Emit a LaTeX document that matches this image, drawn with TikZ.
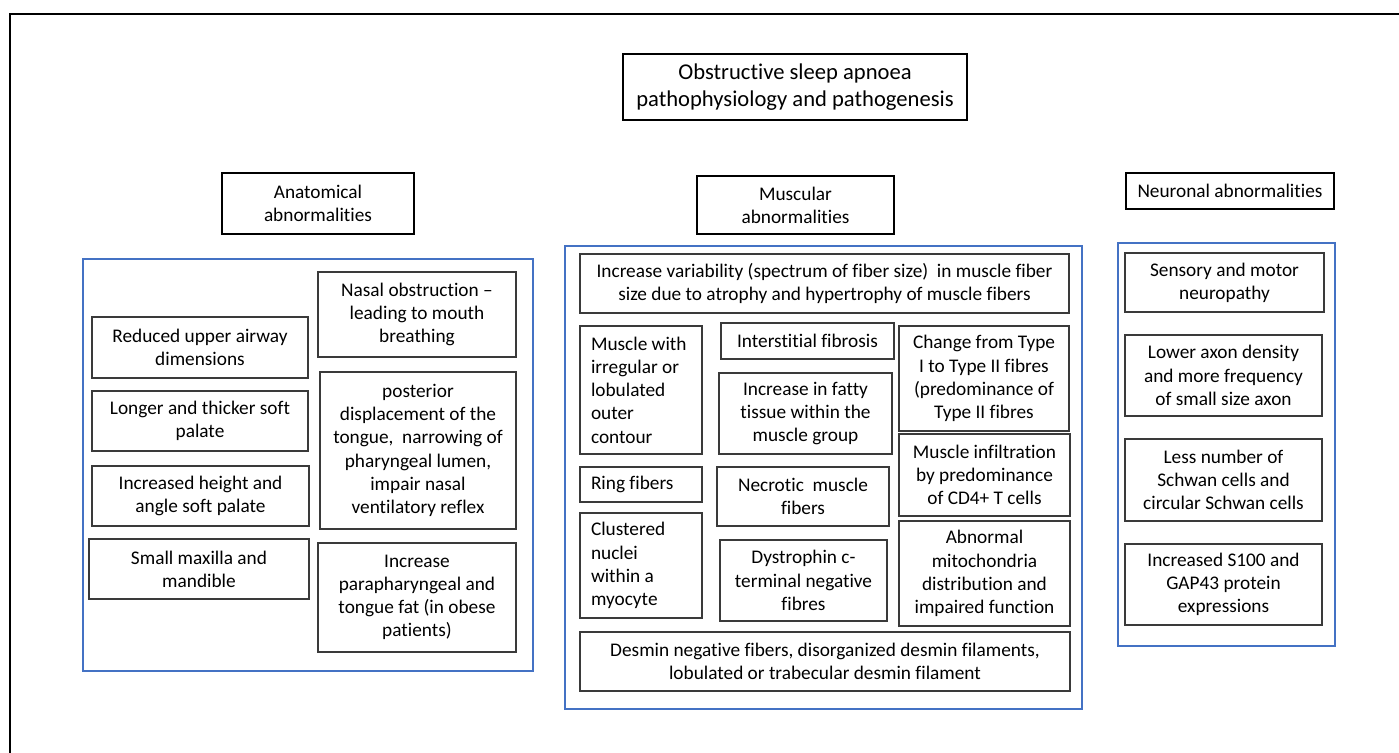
\documentclass[tikz,border=0pt]{standalone}
\usepackage{fontspec}
\setmainfont{Carlito}[Ligatures=NoCommon]
\definecolor{grpblue}{HTML}{4472C4}
\definecolor{boxgray}{HTML}{3A3A3A}
\newcommand\bodyfont{\fontsize{9.65}{11.6}\selectfont}
\newcommand\titlefont{\fontsize{11.3}{13.8}\selectfont}
\tikzset{
  box/.style={draw=boxgray, line width=0.6pt, inner sep=0pt, align=center, font=\bodyfont},
  lbox/.style={box, align=flush left, text width=50pt},
  hdrbox/.style={draw=black, line width=0.6pt, inner sep=0pt, align=center, font=\bodyfont},
  grpbox/.style={draw=grpblue, line width=0.8pt, inner sep=0pt},
  frameline/.style={draw=black, line width=1.1pt}
}
% \mybox[style]{name}{x1}{y1}{x2}{y2}{text}
\newcommand\mybox[7][box]{%
  \node[#1, minimum width={(#5-#3)*0.5pt}, minimum height={(#6-#4)*0.5pt}] (#2) at ({(#3+#5)/2},{(#4+#6)/2}) {#7};}
\begin{document}
\begin{tikzpicture}[x=0.5pt, y=-0.5pt]
\useasboundingbox (0,0) rectangle (1399,753);
\begin{scope}
\clip (0,0) rectangle (1399,753);
\draw[frameline] (10,14) rectangle (1420,780);
\end{scope}
% title and headers
\mybox[hdrbox,font=\titlefont]{title}{623}{54}{967}{120}{Obstructive sleep apnoea\\pathophysiology and pathogenesis}
\mybox[hdrbox]{anat}{222}{173}{414}{234}{Anatomical\\abnormalities}
\mybox[hdrbox]{musc}{697}{176}{894}{234}{Muscular\\abnormalities}
\mybox[hdrbox]{neur}{1126}{173}{1334}{209}{Neuronal abnormalities}
% group boxes
\mybox[grpbox]{ganat}{83}{259}{533}{671}{}
\mybox[grpbox]{gmusc}{565}{246}{1082}{709}{}
\mybox[grpbox]{gneur}{1118}{243}{1335}{646}{}
% anatomical
\mybox{a1}{92}{317}{308}{378}{Reduced upper airway\\dimensions}
\mybox{a2}{92}{391}{308}{451}{Longer and thicker soft\\palate}
\mybox{a3}{92}{466}{309}{526}{Increased height and\\angle soft palate}
\mybox{a4}{89}{539}{309}{599}{Small maxilla and\\mandible}
\mybox{a5}{318}{272}{516}{357}{Nasal obstruction –\\leading to mouth\\breathing}
\mybox{a6}{320}{372}{516}{529}{posterior\\displacement of the\\tongue,~ narrowing of\\pharyngeal lumen,\\impair nasal\\ventilatory reflex}
\mybox{a7}{318}{543}{516}{652}{Increase\\parapharyngeal and\\tongue fat (in obese\\patients)}
% muscular
\mybox{m1}{580}{254}{1069}{313}{Increase variability (spectrum of fiber size)~ in muscle fiber\\size due to atrophy and hypertrophy of muscle fibers}
\mybox[lbox]{m2}{580}{326}{702}{454}{Muscle with\\irregular or\\lobulated\\outer\\contour}
\mybox{m3}{721}{323}{894}{359}{Interstitial fibrosis}
\mybox{m4}{719}{373}{892}{454}{Increase in fatty\\tissue within the\\muscle group}
\mybox{m5}{899}{326}{1069}{431}{Change from Type\\I to Type II fibres\\(predominance of\\Type II fibres}
\mybox[lbox]{m6}{580}{467}{702}{502}{Ring fibers}
\mybox[lbox]{m7}{580}{513}{702}{618}{Clustered\\nuclei\\within a\\myocyte}
\mybox{m8}{717}{467}{889}{526}{Necrotic~ muscle\\fibers}
\mybox{m9}{720}{540}{887}{621}{Dystrophin c-\\terminal negative\\fibres}
\mybox{m10}{899}{434}{1070}{516}{Muscle infiltration\\by predominance\\of CD4+ T cells}
\mybox{m11}{899}{521}{1070}{626}{Abnormal\\mitochondria\\distribution and\\impaired function}
\mybox{m12}{580}{632}{1070}{691}{Desmin negative fibers, disorganized desmin filaments,\\lobulated or trabecular desmin filament}
% neuronal
\mybox{n1}{1125}{253}{1324}{312}{Sensory and motor\\neuropathy}
\mybox{n2}{1125}{335}{1322}{416}{Lower axon density\\and more frequency\\of small size axon}
\mybox{n3}{1125}{439}{1322}{521}{Less number of\\Schwan cells and\\circular Schwan cells}
\mybox{n4}{1125}{544}{1322}{625}{Increased S100 and\\GAP43 protein\\expressions}
\end{tikzpicture}
\end{document}
